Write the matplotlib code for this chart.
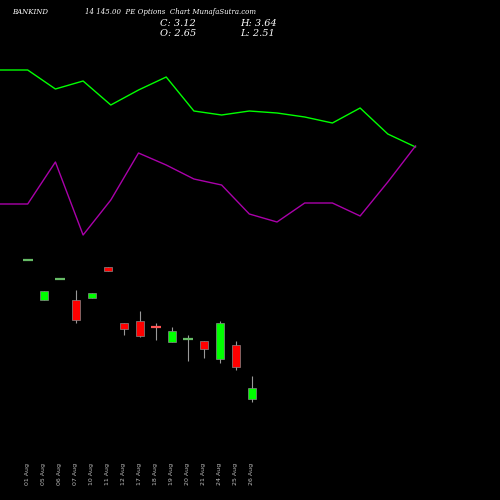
import matplotlib
matplotlib.use("Agg")
import matplotlib.pyplot as plt

dates = ["01 Aug", "05 Aug", "06 Aug", "07 Aug", "10 Aug", "11 Aug", "12 Aug", "17 Aug",
         "18 Aug", "19 Aug", "20 Aug", "21 Aug", "24 Aug", "25 Aug", "26 Aug"]
opens = [8.69, 6.95, 7.86, 6.95, 7.04, 8.38, 5.95, 6.03, 5.77, 5.12, 5.25, 5.16, 4.38, 4.99, 2.65]
closes = [8.69, 7.34, 7.86, 6.08, 7.25, 8.21, 5.69, 5.38, 5.69, 5.60, 5.25, 4.82, 5.95, 4.03, 3.12]
highs = [8.69, 7.34, 7.86, 7.38, 7.25, 8.38, 5.95, 6.47, 5.95, 5.77, 5.43, 5.16, 6.03, 5.16, 3.64]
lows = [8.69, 6.95, 7.86, 5.95, 7.04, 8.21, 5.43, 5.34, 5.21, 5.12, 4.29, 4.43, 4.21, 3.90, 2.51]

# indicator lines (own scale, higher value = lower on chart)
line_x = [0, 1, 2, 3, 4, 5, 6, 7, 8, 9, 10, 11, 12, 13, 14, 15]
green_line = [70, 70, 89, 81, 105, 90, 77, 111, 115, 111, 113, 117, 123, 108, 134, 147]
magenta_line = [204, 204, 162, 235, 200, 153, 165, 179, 185, 214, 222, 203, 203, 216, 182, 146]

fig = plt.figure(figsize=(5, 5), dpi=100, facecolor="black")
ax = fig.add_axes([0, 0, 1, 1], facecolor="black")
ax.set_xlim(-1.75, 29.5)
ax.set_ylim(-1.75, 20.0)
ax.axis("off")

for i, (o, c, h, l) in enumerate(zip(opens, closes, highs, lows)):
    col = "#00ff00" if c >= o else "#ff0000"
    ax.vlines(i, l, h, color="#999999", linewidth=0.8, zorder=1)
    bottom, height = min(o, c), abs(c - o)
    if height < 0.08:
        dcol = "#66bb66" if i != 8 else "#ff5555"
        ax.hlines(o, i - 0.3, i + 0.3, color=dcol, linewidth=1.6, zorder=2)
    else:
        ax.bar(i, height, bottom=bottom, width=0.56, color=col, edgecolor="#888888",
               linewidth=0.5, zorder=2)
    ax.text(i, -1.1, dates[i], rotation=90, ha="center", va="bottom", fontsize=4.5,
            color="#bbbbbb")

ax2 = fig.add_axes([0, 0, 1, 1], facecolor="none")
ax2.set_xlim(0, 18.05)
ax2.set_ylim(500, 0)
ax2.axis("off")
ax2.plot(line_x, green_line, color="#00ff00", linewidth=1.0)
ax2.plot(line_x, magenta_line, color="#aa00aa", linewidth=1.0)

tf = dict(color="white", family="DejaVu Serif", style="italic")
fig.text(0.024, 0.975, "BANKIND", fontsize=5, va="center", **tf)
fig.text(0.17, 0.975, "14 145.00  PE Options  Chart MunafaSutra.com", fontsize=5, va="center", **tf)
fig.text(0.32, 0.952, "C: 3.12", fontsize=7, va="center", **tf)
fig.text(0.32, 0.933, "O: 2.65", fontsize=7, va="center", **tf)
fig.text(0.48, 0.952, "H: 3.64", fontsize=7, va="center", **tf)
fig.text(0.48, 0.933, "L: 2.51", fontsize=7, va="center", **tf)

fig.savefig("out.png", dpi=100, facecolor="black")
